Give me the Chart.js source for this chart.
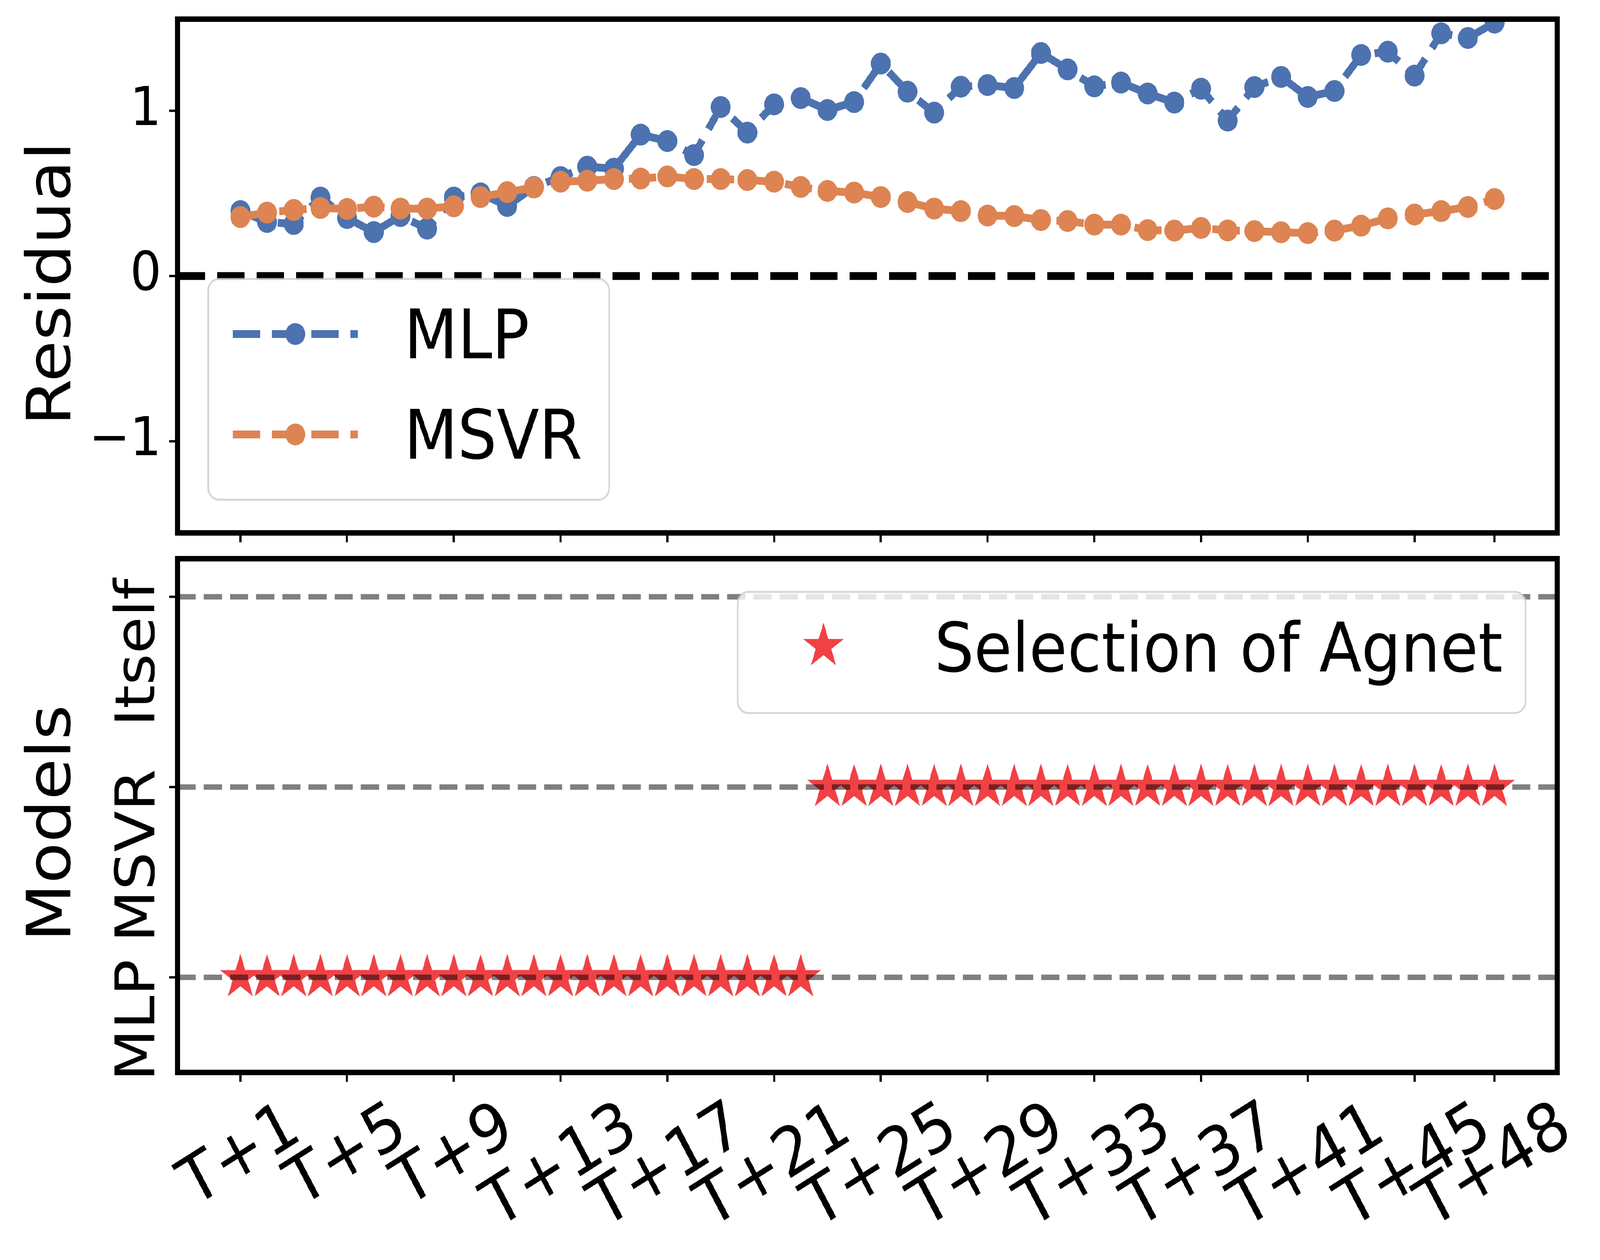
<!DOCTYPE html>
<html>
<head>
<meta charset="utf-8">
<script src="https://cdn.jsdelivr.net/npm/chart.js@4.4.1/dist/chart.umd.min.js"></script>
<style>
  html, body { margin: 0; padding: 0; background: #ffffff; overflow: hidden; }
  #outer { position: relative; overflow: hidden; background: #ffffff; width: 4494px; height: 3225px; }
  #wrap { position: absolute; left: 0; top: 0; width: 4494px; height: 3225px; background: #ffffff; transform-origin: 0 0; }
  #wrap canvas { position: absolute; left: 0; }
</style>
</head>
<body>
<div id="outer">
<div id="wrap">
  <canvas id="residualChart" width="4494" height="1400" style="top:0px;width:4494px;height:1400px;"></canvas>
  <canvas id="modelChart" width="4494" height="1825" style="top:1400px;width:4494px;height:1825px;"></canvas>
</div>
</div>
<script>
// fit the 4494x3225 drawing into the actual window viewport
(function fitPage() {
  const vw = window.innerWidth || 4494, vh = window.innerHeight || 3225;
  const kx = vw / 4494, ky = vh / 3225;
  const outer = document.getElementById('outer');
  outer.style.width = vw + 'px';
  outer.style.height = vh + 'px';
  document.getElementById('wrap').style.transform = 'scale(' + kx + ',' + ky + ')';
})();

// ---------------- DATA ----------------
const horizonLabels = [
  'T+1','T+2','T+3','T+4','T+5','T+6','T+7','T+8','T+9','T+10','T+11','T+12',
  'T+13','T+14','T+15','T+16','T+17','T+18','T+19','T+20','T+21','T+22','T+23','T+24',
  'T+25','T+26','T+27','T+28','T+29','T+30','T+31','T+32','T+33','T+34','T+35','T+36',
  'T+37','T+38','T+39','T+40','T+41','T+42','T+43','T+44','T+45','T+46','T+47','T+48'
];
const xTickLabels = ['T+1','T+5','T+9','T+13','T+17','T+21','T+25','T+29','T+33','T+37','T+41','T+45','T+48'];

const mlpResidual = [
  0.393, 0.327, 0.315, 0.475, 0.351, 0.266, 0.363, 0.287, 0.475, 0.500, 0.424, 0.539,
  0.599, 0.662, 0.650, 0.856, 0.817, 0.732, 1.023, 0.868, 1.039, 1.077, 1.005, 1.053,
  1.286, 1.116, 0.989, 1.146, 1.156, 1.138, 1.350, 1.251, 1.148, 1.171, 1.105, 1.050,
  1.134, 0.941, 1.144, 1.205, 1.084, 1.120, 1.338, 1.358, 1.213, 1.469, 1.441, 1.534
];
const msvrResidual = [
  0.357, 0.384, 0.400, 0.412, 0.406, 0.420, 0.408, 0.408, 0.422, 0.478, 0.508, 0.536,
  0.571, 0.577, 0.587, 0.590, 0.603, 0.587, 0.587, 0.581, 0.571, 0.539, 0.515, 0.505,
  0.478, 0.448, 0.408, 0.393, 0.366, 0.363, 0.339, 0.333, 0.311, 0.311, 0.278, 0.275,
  0.291, 0.276, 0.272, 0.265, 0.260, 0.275, 0.305, 0.349, 0.372, 0.393, 0.418, 0.466
];
const residualTicks = [-1, 0, 1];

const modelNames = ['MLP', 'MSVR', 'Itself'];
const agentSelection = [
  'MLP','MLP','MLP','MLP','MLP','MLP','MLP','MLP','MLP','MLP','MLP','MLP',
  'MLP','MLP','MLP','MLP','MLP','MLP','MLP','MLP','MLP','MLP','MSVR','MSVR',
  'MSVR','MSVR','MSVR','MSVR','MSVR','MSVR','MSVR','MSVR','MSVR','MSVR','MSVR','MSVR',
  'MSVR','MSVR','MSVR','MSVR','MSVR','MSVR','MSVR','MSVR','MSVR','MSVR','MSVR','MSVR'
];

// ---------------- STYLE ----------------
const FONT = '"DejaVu Sans", "Liberation Sans", sans-serif';
const C_MLP = '#4C72B0';
const C_MSVR = '#DD8452';
const C_STAR = '#F14144';
const LINE_W = 20;
const LINE_DASH = [77, 33];
const MARKER_R = 28;
const STAR_R = 57;
const FRAME_W = 14;
const PLOT_LEFT = 499;
const PAD_RIGHT = 120;
const X_MIN = -1.35, X_MAX = 50.35;

const hNum = s => parseInt(s.slice(2), 10);
const horizonX = horizonLabels.map(hNum);
const xTickValues = xTickLabels.map(hNum);

// star marker image
function makeStar(R, color) {
  const pad = 4;
  const c = document.createElement('canvas');
  c.width = c.height = Math.ceil(2 * (R + pad));
  const g = c.getContext('2d');
  const cx = c.width / 2, cy = c.height / 2;
  g.beginPath();
  for (let k = 0; k < 10; k++) {
    const a = -Math.PI / 2 + k * Math.PI / 5;
    const r = (k % 2 === 0) ? R : R * 0.381966;
    const px = cx + r * Math.cos(a), py = cy + r * Math.sin(a);
    if (k === 0) g.moveTo(px, py); else g.lineTo(px, py);
  }
  g.closePath();
  g.fillStyle = color;
  g.fill();
  g.lineWidth = 2;
  g.strokeStyle = color;
  g.stroke();
  return c;
}
const starImg = makeStar(STAR_R, C_STAR);

function roundRect(ctx, x, y, w, h, r) {
  ctx.beginPath();
  ctx.moveTo(x + r, y);
  ctx.lineTo(x + w - r, y);
  ctx.arcTo(x + w, y, x + w, y + r, r);
  ctx.lineTo(x + w, y + h - r);
  ctx.arcTo(x + w, y + h, x + w - r, y + h, r);
  ctx.lineTo(x + r, y + h);
  ctx.arcTo(x, y + h, x, y + h - r, r);
  ctx.lineTo(x, y + r);
  ctx.arcTo(x, y, x + r, y, r);
  ctx.closePath();
}
function legendBox(ctx, x0, y0, x1, y1) {
  ctx.save();
  roundRect(ctx, x0, y0, x1 - x0, y1 - y0, 30);
  ctx.fillStyle = 'rgba(255,255,255,0.8)';
  ctx.fill();
  ctx.lineWidth = 5;
  ctx.strokeStyle = 'rgba(204,204,204,0.8)';
  ctx.stroke();
  ctx.restore();
}
function drawFrame(chart) {
  const a = chart.chartArea, ctx = chart.ctx;
  ctx.save();
  ctx.lineWidth = FRAME_W;
  ctx.strokeStyle = '#000';
  ctx.lineJoin = 'miter';
  ctx.strokeRect(a.left, a.top, a.right - a.left, a.bottom - a.top);
  ctx.restore();
}
function verticalTitle(ctx, text, x, y, size) {
  ctx.save();
  ctx.translate(x, y);
  ctx.rotate(-Math.PI / 2);
  ctx.font = size + 'px ' + FONT;
  ctx.fillStyle = '#000';
  ctx.textAlign = 'center';
  ctx.textBaseline = 'alphabetic';
  ctx.fillText(text, 0, 0);
  ctx.restore();
}
function noPad(s) {
  s.paddingTop = 0; s.paddingBottom = 0; s.paddingLeft = 0; s.paddingRight = 0;
}

const tickGrid = { drawOnChartArea: false, drawTicks: true, tickLength: 24, tickWidth: 6, tickColor: '#000' };

// ---------------- TOP CHART ----------------
const topPlugin = {
  id: 'topDecor',
  beforeDatasetsDraw(chart) {
    const ctx = chart.ctx, a = chart.chartArea;
    const y0 = chart.scales.y.getPixelForValue(0);
    ctx.save();
    ctx.strokeStyle = '#000';
    ctx.lineWidth = 20;
    ctx.setLineDash([77, 34]);
    ctx.beginPath();
    ctx.moveTo(a.left, y0);
    ctx.lineTo(a.right, y0);
    ctx.stroke();
    ctx.restore();
  },
  afterDraw(chart) {
    const ctx = chart.ctx;
    drawFrame(chart);
    // legend
    legendBox(ctx, 585, 714, 1711, 1279);
    const entries = [
      { name: 'MLP', color: C_MLP, y: 855 },
      { name: 'MSVR', color: C_MSVR, y: 1112 }
    ];
    entries.forEach(e => {
      ctx.save();
      ctx.strokeStyle = e.color;
      ctx.lineWidth = LINE_W;
      ctx.setLineDash(LINE_DASH);
      ctx.beginPath();
      ctx.moveTo(654, e.y);
      ctx.lineTo(1005, e.y);
      ctx.stroke();
      ctx.setLineDash([]);
      ctx.fillStyle = e.color;
      ctx.beginPath();
      ctx.arc(829.5, e.y, MARKER_R, 0, Math.PI * 2);
      ctx.fill();
      ctx.fillStyle = '#000';
      ctx.font = '174px ' + FONT;
      ctx.textAlign = 'left';
      ctx.textBaseline = 'alphabetic';
      ctx.fillText(e.name, 1135, e.y + 62);
      ctx.restore();
    });
    verticalTitle(ctx, 'Residual', 197, 726, 172);
  }
};

new Chart(document.getElementById('residualChart'), {
  type: 'line',
  data: {
    datasets: [
      {
        label: 'MSVR',
        data: msvrResidual.map((v, i) => ({ x: horizonX[i], y: v })),
        borderColor: C_MSVR, backgroundColor: C_MSVR,
        borderWidth: LINE_W, borderDash: LINE_DASH, borderJoinStyle: 'round',
        pointRadius: MARKER_R, pointHoverRadius: MARKER_R,
        pointBackgroundColor: C_MSVR, pointBorderWidth: 0,
        tension: 0, order: 0, clip: 0, fill: false
      },
      {
        label: 'MLP',
        data: mlpResidual.map((v, i) => ({ x: horizonX[i], y: v })),
        borderColor: C_MLP, backgroundColor: C_MLP,
        borderWidth: LINE_W, borderDash: LINE_DASH, borderJoinStyle: 'round',
        pointRadius: MARKER_R, pointHoverRadius: MARKER_R,
        pointBackgroundColor: C_MLP, pointBorderWidth: 0,
        tension: 0, order: 1, clip: 0, fill: false
      }
    ]
  },
  options: {
    responsive: false, maintainAspectRatio: false, animation: false, devicePixelRatio: 1,
    layout: { padding: { left: 0, right: PAD_RIGHT, top: 49, bottom: 0 } },
    plugins: { legend: { display: false }, tooltip: { enabled: false } },
    events: [],
    scales: {
      x: {
        type: 'linear', min: X_MIN, max: X_MAX,
        afterBuildTicks: s => { s.ticks = xTickValues.map(v => ({ value: v })); },
        afterFit: s => { s.height = 36; noPad(s); },
        ticks: { display: false },
        grid: tickGrid,
        border: { display: false }
      },
      y: {
        type: 'linear', min: -1.555, max: 1.555,
        afterBuildTicks: s => { s.ticks = residualTicks.map(v => ({ value: v })); },
        afterFit: s => { s.width = PLOT_LEFT; noPad(s); },
        ticks: {
          color: '#000', padding: 22,
          font: { family: FONT, size: 138 },
          callback: v => (v < 0 ? '\u2212' + Math.abs(v) : String(v))
        },
        grid: tickGrid,
        border: { display: false }
      }
    }
  },
  plugins: [topPlugin]
});

// ---------------- BOTTOM CHART ----------------
const bottomPlugin = {
  id: 'bottomDecor',
  afterDatasetsDraw(chart) {
    const ctx = chart.ctx, a = chart.chartArea, ys = chart.scales.y;
    ctx.save();
    ctx.strokeStyle = 'rgba(0,0,0,0.5)';
    ctx.lineWidth = 14;
    ctx.setLineDash([51, 22.5]);
    modelNames.forEach((m, i) => {
      const y = ys.getPixelForValue(i);
      ctx.beginPath();
      ctx.moveTo(a.left, y);
      ctx.lineTo(a.right, y);
      ctx.stroke();
    });
    ctx.restore();
  },
  afterDraw(chart) {
    const ctx = chart.ctx, a = chart.chartArea, xs = chart.scales.x, ys = chart.scales.y;
    // legend
    legendBox(ctx, 2072, 115, 4285, 425);
    ctx.drawImage(starImg, 2313 - starImg.width / 2, 254 - starImg.height / 2);
    ctx.save();
    ctx.fillStyle = '#000';
    ctx.font = '174px ' + FONT;
    ctx.textAlign = 'left';
    ctx.textBaseline = 'alphabetic';
    ctx.fillText('Selection of Agnet', 2625, 319);
    ctx.restore();
    drawFrame(chart);

    // y tick labels (rotated)
    modelNames.forEach((m, i) => {
      const y = ys.getPixelForValue(i) - 46;
      ctx.save();
      ctx.translate(433, y);
      ctx.rotate(-Math.PI / 2);
      ctx.font = '154px ' + FONT;
      ctx.fillStyle = '#000';
      ctx.textAlign = 'right';
      ctx.textBaseline = 'alphabetic';
      ctx.fillText(m, 0, 0);
      ctx.restore();
    });

    // x tick labels (rotated 30 deg, centred)
    const f = 171, th = Math.PI / 6;
    ctx.save();
    ctx.font = f + 'px ' + FONT;
    ctx.fillStyle = '#000';
    const top = a.bottom + 55;
    xTickLabels.forEach((lab, i) => {
      const px = xs.getPixelForValue(xTickValues[i]);
      const w = ctx.measureText(lab).width;
      const h = 0.968 * f;
      const H = w * Math.sin(th) + h * Math.cos(th);
      const cy = top + H / 2;
      ctx.save();
      ctx.translate(px, cy);
      ctx.rotate(-th);
      ctx.textAlign = 'center';
      ctx.textBaseline = 'alphabetic';
      ctx.fillText(lab, 0, 0.276 * f);
      ctx.restore();
    });
    ctx.restore();

    verticalTitle(ctx, 'Models', 197, 707, 172);
  }
};

new Chart(document.getElementById('modelChart'), {
  type: 'line',
  data: {
    datasets: [
      {
        label: 'Selection of Agnet',
        data: agentSelection.map((m, i) => ({ x: horizonX[i], y: modelNames.indexOf(m) })),
        showLine: false,
        pointStyle: starImg,
        pointRadius: 10, pointHoverRadius: 10,
        borderColor: C_STAR, backgroundColor: C_STAR,
        clip: 0
      }
    ]
  },
  options: {
    responsive: false, maintainAspectRatio: false, animation: false, devicePixelRatio: 1,
    layout: { padding: { left: 0, right: PAD_RIGHT, top: 30, bottom: 0 } },
    plugins: { legend: { display: false }, tooltip: { enabled: false } },
    events: [],
    scales: {
      x: {
        type: 'linear', min: X_MIN, max: X_MAX,
        afterBuildTicks: s => { s.ticks = xTickValues.map(v => ({ value: v })); },
        afterFit: s => { s.height = 480; noPad(s); },
        ticks: { display: false },
        grid: tickGrid,
        border: { display: false }
      },
      y: {
        type: 'linear', min: -0.5, max: 2.2,
        afterBuildTicks: s => { s.ticks = modelNames.map((m, i) => ({ value: i })); },
        afterFit: s => { s.width = PLOT_LEFT; noPad(s); },
        ticks: { display: false },
        grid: tickGrid,
        border: { display: false }
      }
    }
  },
  plugins: [bottomPlugin]
});
</script>
</body>
</html>
